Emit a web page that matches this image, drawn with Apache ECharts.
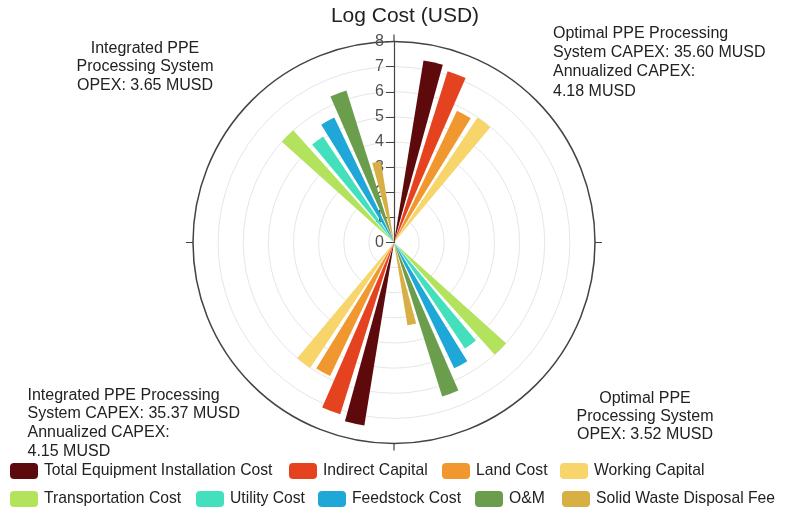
<!DOCTYPE html>
<html>
<head>
<meta charset="utf-8">
<script src="https://cdn.jsdelivr.net/npm/echarts@6/dist/echarts.min.js"></script>
<style>
html,body{margin:0;padding:0;background:#fff;}
#chart{width:790px;height:511px;}
</style>
</head>
<body>
<div id="chart"></div>
<script>
// ---- Data ----
const costItems = ['Total Equipment Installation Cost', 'Indirect Capital', 'Land Cost', 'Working Capital',
  'Transportation Cost', 'Utility Cost', 'Feedstock Cost', 'O&M', 'Solid Waste Disposal Fee'];
const capexItems = ['Total Equipment Installation Cost', 'Indirect Capital', 'Land Cost', 'Working Capital'];
const opexItems = ['Transportation Cost', 'Utility Cost', 'Feedstock Cost', 'O&M', 'Solid Waste Disposal Fee'];
// log10 cost (USD)
const optimalCapex = [7.34, 7.14, 5.81, 5.98];
const integratedCapex = [7.38, 7.16, 5.89, 6.01];
const optimalOpex = [6.00, 5.08, 5.55, 6.42, 3.34];
const integratedOpex = [6.00, 5.08, 5.51, 6.34, 3.28];
const radiusTicks = [0, 1, 2, 3, 4, 5, 6, 7, 8];
const axisTitle = 'Log Cost (USD)';
const notes = {
  integratedOpex: 'Integrated PPE\nProcessing System\nOPEX: 3.65 MUSD',
  optimalCapex: 'Optimal PPE Processing\nSystem CAPEX: 35.60 MUSD\nAnnualized CAPEX:\n4.18 MUSD',
  integratedCapex: 'Integrated PPE Processing\nSystem CAPEX: 35.37 MUSD\nAnnualized CAPEX:\n4.15 MUSD',
  optimalOpex: 'Optimal PPE\nProcessing System\nOPEX: 3.52 MUSD'
};

// ---- Layout (angular slot of each group, clockwise from north) ----
const nSlots = 44;
const slotOptimalCapex = 1;      // slots 1..4
const slotOptimalOpex = 16;      // slots 16..20
const slotIntegratedCapex = 23;  // slots 23..26
const slotIntegratedOpex = 38;   // slots 38..42

const colors = {
  'Total Equipment Installation Cost': '#5e0a0c',
  'Indirect Capital': '#e5431f',
  'Land Cost': '#f0982f',
  'Working Capital': '#f7d56b',
  'Transportation Cost': '#b3e35d',
  'Utility Cost': '#44e0bd',
  'Feedstock Cost': '#1fa7d7',
  'O&M': '#6a9e4d',
  'Solid Waste Disposal Fee': '#d8af45'
};

const slots = [];
for (let i = 0; i < nSlots; i++) slots.push(String(i));

const series = costItems.map(name => {
  const data = new Array(nSlots).fill('-');
  const ci = capexItems.indexOf(name);
  if (ci >= 0) {
    data[slotOptimalCapex + ci] = optimalCapex[ci];
    data[slotIntegratedCapex + ci] = integratedCapex[ci];
  }
  const oi = opexItems.indexOf(name);
  if (oi >= 0) {
    data[slotOptimalOpex + oi] = optimalOpex[oi];
    data[slotIntegratedOpex + oi] = integratedOpex[oi];
  }
  return {
    name: name,
    type: 'bar',
    coordinateSystem: 'polar',
    data: data,
    barGap: '-100%',
    barCategoryGap: '25%',
    itemStyle: { color: colors[name] },
    z: 3
  };
});

const legendPos = [
  [10, 463], [289, 463], [442, 463], [560, 463],
  [10, 491], [196, 491], [318, 491], [475, 491], [562, 491]
];
const legends = costItems.map((name, i) => ({
  data: [name],
  left: legendPos[i][0],
  top: legendPos[i][1],
  icon: 'roundRect',
  itemWidth: 28,
  itemHeight: 16,
  padding: 0,
  selectedMode: false,
  textStyle: { fontFamily: 'Liberation Sans, Arial, sans-serif', fontSize: 15.7, color: '#222', padding: [0, 0, 0, 1] }
}));

const txt = (t, x, y, align, lh) => ({
  type: 'text', x: x, y: y,
  style: { text: t, x: 0, y: 0, textAlign: align, textVerticalAlign: 'top',
    font: '16px "Liberation Sans", Arial, sans-serif', fill: '#222', lineHeight: lh },
  z: 10
});

const chart = echarts.init(document.getElementById('chart'), null, { renderer: 'canvas' });
chart.setOption({
  animation: false,
  backgroundColor: '#fff',
  legend: legends,
  polar: { center: [394, 242.5], radius: 201 },
  angleAxis: {
    type: 'category',
    data: slots,
    startAngle: 90,
    clockwise: true,
    boundaryGap: true,
    axisLine: { show: true, lineStyle: { color: '#444', width: 1.5 } },
    axisTick: { show: true, interval: 10, length: 7, lineStyle: { color: '#444', width: 1.2 } },
    axisLabel: { show: false },
    splitLine: { show: false },
    z: 1
  },
  radiusAxis: {
    type: 'value',
    min: radiusTicks[0],
    max: radiusTicks[radiusTicks.length - 1],
    interval: 1,
    axisLine: { show: true, lineStyle: { color: '#444', width: 1.2 } },
    axisTick: { show: true, length: 8, lineStyle: { color: '#444' } },
    axisLabel: { fontSize: 16, color: '#505050', fontFamily: 'Liberation Sans, Arial, sans-serif', margin: 10 },
    splitLine: { show: true, lineStyle: { color: '#e6e6e6', width: 1 } },
    z: 1
  },
  graphic: [
    { type: 'text', x: 405, y: 6, style: { text: axisTitle, textAlign: 'center', textVerticalAlign: 'top',
        font: '21px "Liberation Sans", Arial, sans-serif', fill: '#222' }, z: 10 },
    txt(notes.integratedOpex, 145, 39, 'center', 18.5),
    txt(notes.optimalCapex, 553, 24, 'left', 19.2),
    txt(notes.integratedCapex, 27.5, 386, 'left', 18.6),
    txt(notes.optimalOpex, 645, 389, 'center', 18.4)
  ],
  series: series
});
</script>
</body>
</html>
